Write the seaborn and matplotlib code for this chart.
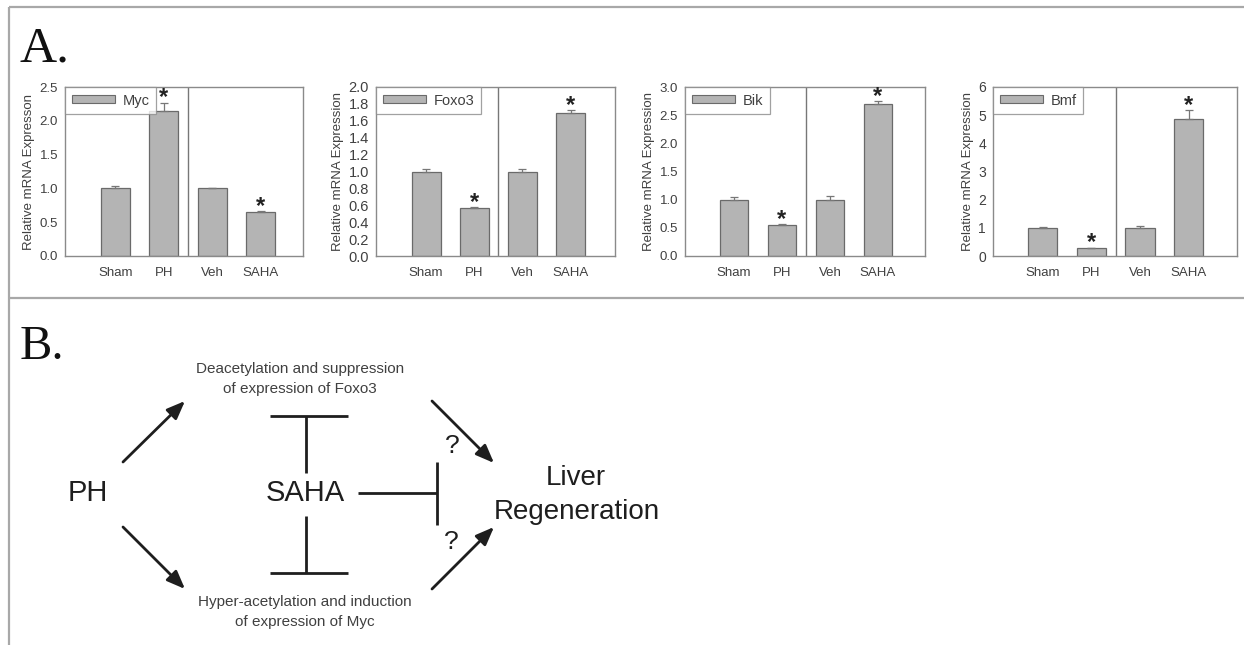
import numpy as np
import pandas as pd
import matplotlib
matplotlib.use("Agg")
import matplotlib.pyplot as plt
from matplotlib.patches import Patch
import seaborn as sns

# ---------------------------------------------------------------
# data
# ---------------------------------------------------------------
groups = ["Sham", "PH", "Veh", "SAHA"]
genes = ["Myc", "Foxo3", "Bik", "Bmf"]

myc_mean = [1.00, 2.14, 1.00, 0.65]
myc_err = [0.04, 0.13, 0.01, 0.02]
foxo3_mean = [1.00, 0.57, 1.00, 1.69]
foxo3_err = [0.03, 0.01, 0.03, 0.04]
bik_mean = [1.00, 0.55, 1.00, 2.70]
bik_err = [0.04, 0.02, 0.06, 0.05]
bmf_mean = [1.00, 0.28, 1.00, 4.87]
bmf_err = [0.03, 0.02, 0.08, 0.32]

significant = [False, True, False, True]

ylabels = ["Relative mRNA Expresson", "Relative mRNA Expression",
           "Relative mRNA Expression", "Relative mRNA Expression"]
ymax = [2.5, 2.0, 3.0, 6.0]
ystep = [0.5, 0.2, 0.5, 1.0]
ydecimals = [1, 1, 1, 0]

means = [myc_mean, foxo3_mean, bik_mean, bmf_mean]
errs = [myc_err, foxo3_err, bik_err, bmf_err]

# ---------------------------------------------------------------
# layout (pixels of a 1244x645 figure)
# ---------------------------------------------------------------
W, H = 1244, 645
# left, right, top, bottom of each bar panel
panel_px = [(65, 303, 87, 256), (376, 615, 87, 256),
            (685, 925, 87, 256), (993, 1237, 87, 256)]
panel_xlim = [(-1.04, 3.87), (-1.04, 3.92), (-1.02, 3.98), (-1.02, 3.99)]
tick_size = [9.5, 10.5, 9.5, 10]

bar_face = "#b4b4b4"
bar_edge = "#6a6a6a"
frame_col = "#8a8a8a"
txt_col = "#404040"
ink = "#1e1e1e"

sns.set_style("white")
plt.rcParams["font.family"] = ["Liberation Sans", "DejaVu Sans"]

fig = plt.figure(figsize=(W / 100, H / 100), dpi=100)

# overlay axes in pixel coordinates for frame lines and the diagram
dg = fig.add_axes([0, 0, 1, 1], zorder=0)
dg.set_xlim(0, W)
dg.set_ylim(H, 0)
dg.axis("off")

# panel frame lines
frame_kw = dict(color="#a8a8a8", lw=1.6, solid_capstyle="butt")
dg.plot([9, W], [7, 7], **frame_kw)
dg.plot([9, 9], [7, H], **frame_kw)
dg.plot([9, W], [298, 298], **frame_kw)

dg.text(20, 62, "A.", family="Liberation Serif", fontsize=37, color="#111111",
        ha="left", va="baseline")
dg.text(20, 359, "B.", family="Liberation Serif", fontsize=35, color="#111111",
        ha="left", va="baseline")

# ---------------------------------------------------------------
# panel A: bar charts
# ---------------------------------------------------------------
for i, gene in enumerate(genes):
    l, r, t, b = panel_px[i]
    ax = fig.add_axes([l / W, (H - b) / H, (r - l) / W, (b - t) / H], zorder=2)
    ax.patch.set_alpha(0)

    df = pd.DataFrame({"group": groups, "value": means[i], "err": errs[i]})
    sns.barplot(data=df, x="group", y="value", color=bar_face, saturation=1,
                width=0.6, errorbar=None, edgecolor=bar_edge, linewidth=0.9,
                ax=ax, zorder=2)

    xs = np.arange(len(groups))
    ax.errorbar(xs, df["value"], yerr=[np.zeros(len(xs)), df["err"]],
                fmt="none", ecolor="#777777", elinewidth=0.9, capsize=3,
                capthick=0.9, zorder=3)

    for x, v, e, sig in zip(xs, df["value"], df["err"], significant):
        if sig:
            ax.annotate("*", xy=(x, v + e), xytext=(0, -5), textcoords="offset points",
                        ha="center", va="bottom", fontsize=17, color="#222222",
                        fontweight="bold")

    ax.axvline(1.5, color="#777777", lw=1.0, zorder=1)

    ax.set_xlim(*panel_xlim[i])
    ax.set_ylim(0, ymax[i])
    ticks = np.arange(0, ymax[i] + ystep[i] / 2, ystep[i])
    ax.set_yticks(ticks)
    ax.set_yticklabels([f"{tk:.{ydecimals[i]}f}" for tk in ticks])
    ax.set_xlabel("")
    ax.set_ylabel(ylabels[i], fontsize=9.5, color=txt_col, labelpad=3)
    ax.tick_params(axis="both", direction="out", length=3, width=0.8,
                   colors=frame_col, labelcolor=txt_col, labelsize=tick_size[i], pad=2)
    ax.tick_params(axis="x", pad=5, labelsize=9.5)
    for sp in ax.spines.values():
        sp.set_visible(True)
        sp.set_color(frame_col)
        sp.set_linewidth(1.0)

    handle = Patch(facecolor=bar_face, edgecolor=bar_edge, linewidth=0.8)
    leg = ax.legend([handle], [gene], loc="upper left", borderaxespad=0,
                    frameon=True, fancybox=False, fontsize=10.5, handlelength=3.0,
                    handleheight=0.45, borderpad=0.45, handletextpad=0.5)
    leg.get_frame().set_edgecolor(frame_col)
    leg.get_frame().set_linewidth(0.9)
    for tx in leg.get_texts():
        tx.set_color(txt_col)

# ---------------------------------------------------------------
# panel B: pathway diagram
# ---------------------------------------------------------------
big = 21
small = 11

dg.text(88, 493, "PH", fontsize=big, color=ink, ha="center", va="center")
dg.text(305, 493, "SAHA", fontsize=big, color=ink, ha="center", va="center")
dg.text(576, 478, "Liver", fontsize=20, color=ink, ha="center", va="center")
dg.text(577, 512, "Regeneration", fontsize=20, color=ink, ha="center", va="center")

dg.text(300, 369, "Deacetylation and suppression", fontsize=small, color=txt_col,
        ha="center", va="center")
dg.text(300, 389, "of expression of Foxo3", fontsize=small, color=txt_col,
        ha="center", va="center")
dg.text(305, 602, "Hyper-acetylation and induction", fontsize=small, color=txt_col,
        ha="center", va="center")
dg.text(305, 622, "of expression of Myc", fontsize=small, color=txt_col,
        ha="center", va="center")

dg.text(452, 446, "?", fontsize=19, color=ink, ha="center", va="center")
dg.text(451, 542, "?", fontsize=19, color=ink, ha="center", va="center")

arrow_kw = dict(arrowstyle="-|>,head_length=0.55,head_width=0.22", lw=2.0,
                color=ink, shrinkA=0, shrinkB=0, mutation_scale=20)
arrows = [((123, 462), (185, 401)),
          ((123, 527), (185, 589)),
          ((432, 401), (494, 463)),
          ((432, 589), (494, 527))]
for tail, tip in arrows:
    dg.annotate("", xy=tip, xytext=tail, arrowprops=arrow_kw)

line_kw = dict(color=ink, lw=2.0, solid_capstyle="butt")
# upper T (SAHA blocks Foxo3 suppression)
dg.plot([270, 348], [416, 416], **line_kw)
dg.plot([306, 306], [416, 473], **line_kw)
# lower T (SAHA blocks Myc induction)
dg.plot([306, 306], [516, 573], **line_kw)
dg.plot([270, 348], [573, 573], **line_kw)
# SAHA blocks liver regeneration
dg.plot([358, 437], [493, 493], **line_kw)
dg.plot([437, 437], [462, 525], **line_kw)

fig.savefig("out.png", dpi=100, facecolor="white")
